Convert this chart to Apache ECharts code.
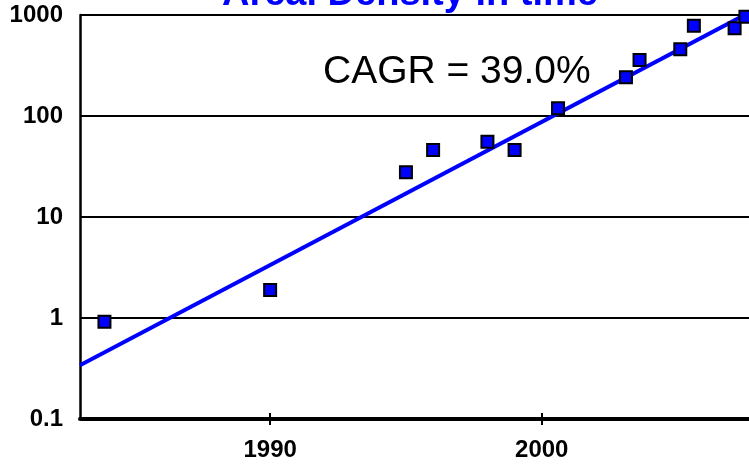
<!DOCTYPE html>
<html>
<head>
<meta charset="utf-8">
<script src="https://cdn.jsdelivr.net/npm/echarts@6/dist/echarts.min.js"></script>
<style>
  html, body { margin: 0; padding: 0; background: #fff; }
  #chartmain { width: 749px; height: 464px; }
</style>
</head>
<body>
<div id="chartmain"></div>
<script>
// measured points (year, areal density)
var years = [1983.9, 1990, 1995, 1996, 1998, 1999, 2000.6, 2003.1, 2003.6, 2005.1, 2005.6, 2007.1, 2007.5];
var density = [0.92, 1.89, 27.7, 46, 55.7, 46, 119, 242, 358, 457, 783, 739, 962];
// fitted trend (CAGR 39%)
var trendYears = [1983, 2008];
var trendValues = [0.34, 1190];
var xTickYears = [1990, 2000];

var font = "'Liberation Sans', Arial, sans-serif";
var blue = '#0000ff';

var points = years.map(function (y, i) { return [y, density[i]]; });
var trend = trendYears.map(function (y, i) { return [y, trendValues[i]]; });

var chart = echarts.init(document.getElementById('chartmain'));
chart.setOption({
  animation: false,
  backgroundColor: '#fff',
  title: {
    text: 'Areal Density in time',
    left: 222,
    top: -24,
    padding: 0,
    textStyle: { color: blue, fontSize: 38, fontWeight: 'bold', fontFamily: font }
  },
  grid: { left: 80, right: 0, top: 15, bottom: 45 },
  xAxis: [{
    type: 'value',
    min: 1983,
    max: 2007.63,  // plot runs off the right edge of the picture
    axisLine: { lineStyle: { color: '#000', width: 4 } },
    axisTick: { customValues: xTickYears, length: 6, lineStyle: { color: '#000', width: 2 } },
    axisLabel: {
      customValues: xTickYears,
      formatter: function (v) { return String(v); },
      color: '#000', fontSize: 24, fontWeight: 'bold', fontFamily: font, margin: 19
    },
    splitLine: { show: false }
  }, {
    // inner half of the crossing ticks
    type: 'value',
    position: 'bottom',
    min: 1983,
    max: 2007.63,
    axisLine: { show: false },
    axisTick: { inside: true, customValues: xTickYears, length: 6, lineStyle: { color: '#000', width: 2 } },
    axisLabel: { show: false },
    splitLine: { show: false }
  }],
  yAxis: {
    type: 'log',
    logBase: 10,
    min: 0.1,
    max: 1000,
    axisLine: { show: true, lineStyle: { color: '#000', width: 2.5 } },
    axisTick: { show: false },
    axisLabel: {
      formatter: function (v) { return String(v); },
      color: '#000', fontSize: 24, fontWeight: 'bold', fontFamily: font, margin: 17
    },
    splitLine: { lineStyle: { color: '#000', width: 2 } }
  },
  graphic: [{
    type: 'text',
    left: 323,
    top: 53,
    style: { text: 'CAGR = 39.0%', fill: '#000', fontSize: 39, fontFamily: font }
  }],
  series: [{
    type: 'line',
    data: trend,
    showSymbol: false,
    lineStyle: { color: blue, width: 4 },
    z: 2
  }, {
    type: 'scatter',
    data: points,
    symbol: 'rect',
    symbolSize: 12,
    itemStyle: { color: blue, borderColor: '#000', borderWidth: 2, opacity: 1 },
    z: 3
  }]
});
</script>
</body>
</html>
